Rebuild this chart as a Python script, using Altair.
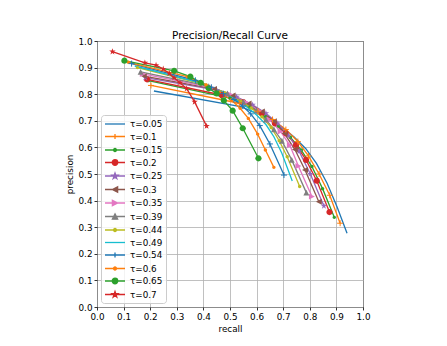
import math
import altair as alt
import pandas as pd

# ---------------- data ----------------
taus = ["0.05", "0.1", "0.15", "0.2", "0.25", "0.3", "0.35",
        "0.39", "0.44", "0.49", "0.54", "0.6", "0.65", "0.7"]

recall_005 = [0.214, 0.54, 0.625, 0.69, 0.74, 0.785, 0.825, 0.865, 0.903, 0.94]
precision_005 = [0.812, 0.753, 0.718, 0.68, 0.64, 0.595, 0.54, 0.465, 0.375, 0.277]
recall_010 = [0.203, 0.535, 0.605, 0.66, 0.71, 0.755, 0.795, 0.835, 0.875, 0.914]
precision_010 = [0.833, 0.766, 0.736, 0.705, 0.667, 0.622, 0.568, 0.5, 0.42, 0.315]
recall_015 = [0.193, 0.5, 0.575, 0.632, 0.682, 0.727, 0.768, 0.808, 0.848, 0.892]
precision_015 = [0.851, 0.785, 0.752, 0.718, 0.68, 0.638, 0.59, 0.528, 0.445, 0.337]
recall_020 = [0.188, 0.469, 0.55, 0.62, 0.669, 0.71, 0.748, 0.786, 0.826, 0.874]
precision_020 = [0.856, 0.797, 0.77, 0.728, 0.69, 0.653, 0.609, 0.553, 0.475, 0.357]
recall_025 = [0.182, 0.45, 0.525, 0.585, 0.635, 0.68, 0.72, 0.76, 0.802, 0.853]
precision_025 = [0.862, 0.815, 0.79, 0.76, 0.728, 0.69, 0.645, 0.585, 0.5, 0.38]
recall_030 = [0.176, 0.44, 0.51, 0.57, 0.62, 0.665, 0.705, 0.744, 0.782, 0.834]
precision_030 = [0.868, 0.82, 0.795, 0.765, 0.735, 0.698, 0.652, 0.592, 0.515, 0.396]
recall_035 = [0.172, 0.43, 0.5, 0.56, 0.61, 0.65, 0.69, 0.725, 0.757, 0.808]
precision_035 = [0.876, 0.825, 0.8, 0.77, 0.738, 0.703, 0.66, 0.608, 0.53, 0.415]
recall_039 = [0.164, 0.42, 0.49, 0.55, 0.6, 0.635, 0.665, 0.695, 0.732, 0.787]
precision_039 = [0.884, 0.83, 0.803, 0.772, 0.74, 0.705, 0.668, 0.625, 0.553, 0.43]
recall_044 = [0.152, 0.41, 0.48, 0.54, 0.58, 0.62, 0.655, 0.685, 0.715, 0.762]
precision_044 = [0.9, 0.835, 0.806, 0.774, 0.748, 0.715, 0.675, 0.625, 0.565, 0.453]
recall_049 = [0.142, 0.4, 0.47, 0.52, 0.56, 0.6, 0.635, 0.665, 0.695, 0.734]
precision_049 = [0.906, 0.84, 0.808, 0.78, 0.755, 0.722, 0.686, 0.64, 0.578, 0.474]
recall_054 = [0.13, 0.37, 0.43, 0.475, 0.515, 0.548, 0.578, 0.612, 0.65, 0.703]
precision_054 = [0.915, 0.852, 0.826, 0.802, 0.78, 0.755, 0.726, 0.682, 0.613, 0.496]
recall_060 = [0.118, 0.34, 0.41, 0.46, 0.505, 0.538, 0.569, 0.604, 0.633, 0.665]
precision_060 = [0.92, 0.866, 0.835, 0.808, 0.778, 0.747, 0.709, 0.65, 0.59, 0.525]
recall_065 = [0.103, 0.29, 0.351, 0.39, 0.42, 0.45, 0.477, 0.51, 0.548, 0.607]
precision_065 = [0.926, 0.888, 0.866, 0.843, 0.822, 0.803, 0.776, 0.738, 0.672, 0.559]
recall_070 = [0.058, 0.18, 0.222, 0.249, 0.272, 0.29, 0.312, 0.337, 0.367, 0.412]
precision_070 = [0.96, 0.918, 0.909, 0.895, 0.878, 0.862, 0.843, 0.821, 0.771, 0.68]

tick_values = [0.0, 0.1, 0.2, 0.3, 0.4, 0.5, 0.6, 0.7, 0.8, 0.9, 1.0]

recalls = [recall_005, recall_010, recall_015, recall_020, recall_025, recall_030, recall_035,
           recall_039, recall_044, recall_049, recall_054, recall_060, recall_065, recall_070]
precisions = [precision_005, precision_010, precision_015, precision_020, precision_025,
              precision_030, precision_035, precision_039, precision_044, precision_049,
              precision_054, precision_060, precision_065, precision_070]

# ---------------- styling ----------------
colors = ["#1f77b4", "#ff7f0e", "#2ca02c", "#d62728", "#9467bd", "#8c564b", "#e377c2",
          "#7f7f7f", "#bcbd22", "#17becf", "#1f77b4", "#ff7f0e", "#2ca02c", "#d62728"]
markers = ["none", "plus", "point", "circle", "star", "tri_left", "tri_right",
           "tri_up", "point", "none", "plus", "point", "circle", "star"]
labels = ["τ=" + t for t in taus]


def f(v):
    return f"{v:.3f}"


def marker_path(kind, s, dx=0.0):
    if kind == "circle" or kind == "point":
        r = s * (1.1 if kind == "circle" else 0.6)
        return (f"M{f(dx + r)},0A{f(r)},{f(r)},0,1,1,{f(dx - r)},0"
                f"A{f(r)},{f(r)},0,1,1,{f(dx + r)},0Z")
    if kind == "star":
        R, ri = 1.2 * s, 1.2 * s * 0.382
        pts = []
        for k in range(10):
            rad = R if k % 2 == 0 else ri
            a = math.radians(36 * k)
            pts.append((dx + rad * math.sin(a), -rad * math.cos(a)))
        return "M" + "L".join(f"{f(x)},{f(y)}" for x, y in pts) + "Z"
    t = 1.05 * s
    if kind == "tri_up":
        return f"M{f(dx)},{f(-t)}L{f(dx + t)},{f(t)}L{f(dx - t)},{f(t)}Z"
    if kind == "tri_left":
        return f"M{f(dx - t)},0L{f(dx + t)},{f(-t)}L{f(dx + t)},{f(t)}Z"
    if kind == "tri_right":
        return f"M{f(dx + t)},0L{f(dx - t)},{f(-t)}L{f(dx - t)},{f(t)}Z"
    if kind == "plus":
        return f"M{f(dx - s)},0H{f(dx + s)}M{f(dx)},{f(-s)}V{f(s)}"
    return ""


filled_kinds = ["circle", "point", "star", "tri_up", "tri_left", "tri_right"]
filled_paths = [marker_path(k, 1.0) for k in filled_kinds]
plus_path = marker_path("plus", 1.0)
legend_paths = ["M-1,0H3" + marker_path(m, 0.5, 1.0) for m in markers]

rows = []
for i, lab in enumerate(labels):
    for j, (r, p) in enumerate(zip(recalls[i], precisions[i])):
        rows.append({"tau": lab, "idx": j, "recall": r, "precision": p, "marker": markers[i]})
df = pd.DataFrame(rows)

FONT = "DejaVu Sans"

x_enc = alt.X("recall:Q", scale=alt.Scale(domain=[0, 1], nice=False, zero=False),
              axis=alt.Axis(values=tick_values, format=".1f", title="recall"))
y_enc = alt.Y("precision:Q", scale=alt.Scale(domain=[0, 1], nice=False, zero=False),
              axis=alt.Axis(values=tick_values, format=".1f", title="precision"))
color_enc = alt.Color("tau:N", scale=alt.Scale(domain=labels, range=colors), legend=None)

lines = alt.Chart(df).mark_line(strokeWidth=1.3).encode(
    x=x_enc, y=y_enc, color=color_enc, order="idx:Q")

pts_filled = alt.Chart(df).transform_filter(
    alt.FieldOneOfPredicate(field="marker", oneOf=filled_kinds)
).mark_point(filled=True, opacity=1, size=32).encode(
    x=x_enc, y=y_enc, color=color_enc,
    shape=alt.Shape("marker:N", scale=alt.Scale(domain=filled_kinds, range=filled_paths),
                    legend=None))

pts_plus = alt.Chart(df).transform_filter(
    alt.FieldEqualPredicate(field="marker", equal="plus")
).mark_point(filled=False, opacity=1, size=36, strokeWidth=1.0, shape=plus_path).encode(
    x=x_enc, y=y_enc, color=color_enc)

leg = alt.Legend(title=None, orient="bottom-left", offset=4, padding=3,
                 fillColor="rgba(255,255,255,0.8)", strokeColor="#cccccc", cornerRadius=3,
                 labelFont=FONT, labelFontSize=8.8, labelColor="black",
                 symbolSize=100, symbolStrokeWidth=1.3, rowPadding=1.5, labelOffset=14,
                 symbolOpacity=1)

legend_df = pd.DataFrame({"tau_leg": labels})
leg_layer = alt.Chart(legend_df).transform_filter("false").mark_point(
    filled=True, opacity=1, strokeWidth=1.3).encode(
    fill=alt.Fill("tau_leg:N", scale=alt.Scale(domain=labels, range=colors), legend=leg),
    stroke=alt.Stroke("tau_leg:N", scale=alt.Scale(domain=labels, range=colors), legend=leg),
    shape=alt.Shape("tau_leg:N", scale=alt.Scale(domain=labels, range=legend_paths), legend=leg),
)

chart = alt.layer(lines, pts_filled, pts_plus, leg_layer).resolve_scale(
    shape="independent", fill="independent", stroke="independent"
).properties(
    width=266, height=266,
    title=alt.Title("Precision/Recall Curve", font=FONT, fontSize=10.5, fontWeight="normal",
                    color="black", offset=-4, frame="group"),
    autosize=alt.AutoSizeParams(type="none"),
    padding={"left": 89, "top": 33, "right": 76, "bottom": 31},
).configure_view(
    stroke="black", strokeWidth=1
).configure_axis(
    domain=False, grid=True, gridColor="#b0b0b0", gridWidth=0.8,
    tickColor="black", tickSize=3, tickWidth=0.8,
    labelFont=FONT, labelFontSize=8.8, labelColor="black", labelPadding=2,
    labelFlush=False, labelOverlap=False,
    titleFont=FONT, titleFontSize=8.8, titleFontWeight="normal", titleColor="black",
    titlePadding=4,
)

chart.save("out.html", embed_options={"renderer": "svg", "actions": False})
